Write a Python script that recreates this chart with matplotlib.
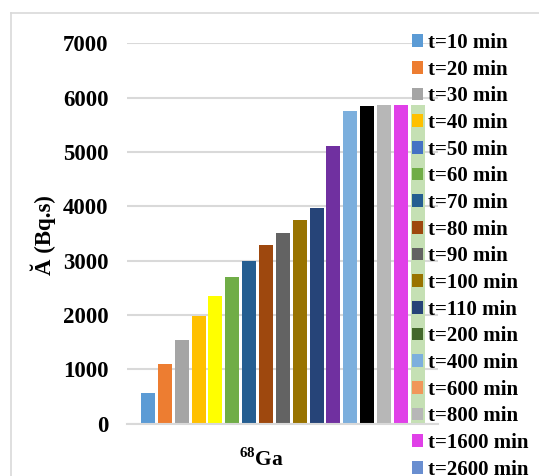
import matplotlib
matplotlib.use("Agg")
import matplotlib.pyplot as plt
from matplotlib.patches import Patch
from matplotlib.lines import Line2D

# bar heights (one bar per time point)
times = ["10", "20", "30", "40", "50", "60", "70", "80", "90", "100",
         "110", "200", "400", "600", "800", "1600", "2600"]
values = [558, 1092, 1547, 1982, 2343, 2692, 2991, 3284, 3517, 3756,
          3963, 5102, 5747, 5839, 5857, 5857, 5857]
bar_colors = ["#5B9BD5", "#ED7D31", "#A5A5A5", "#FFC000", "#FFFF00", "#70AD47",
              "#255E91", "#9E480E", "#636363", "#997300", "#264478", "#7030A0",
              "#7CAFDD", "#000000", "#B7B7B7", "#E040E8", "#C5E0B4"]
legend_colors = ["#5B9BD5", "#ED7D31", "#A5A5A5", "#FFC000", "#4472C4", "#70AD47",
                 "#255E91", "#9E480E", "#636363", "#997300", "#264478", "#43682B",
                 "#7CAFDD", "#F1975A", "#B7B7B7", "#E040E8", "#698ED0"]
yticks = [0, 1000, 2000, 3000, 4000, 5000, 6000, 7000]

plt.rcParams['font.family'] = ['Liberation Serif', 'DejaVu Serif']
plt.rcParams['font.weight'] = 'bold'
plt.rcParams['mathtext.fontset'] = 'custom'
plt.rcParams['mathtext.rm'] = 'Liberation Serif:bold'
plt.rcParams['mathtext.bf'] = 'Liberation Serif:bold'

W, H = 539, 476
fig = plt.figure(figsize=(W / 100, H / 100), dpi=100)

# outer chart border (left and top edges, the rest is cut off)
fig.lines.append(Line2D([10.5 / W, 10.5 / W], [0, 1 - 12.5 / H], transform=fig.transFigure,
                        color="#D9D9D9", linewidth=1.2))
fig.lines.append(Line2D([10.5 / W, 1], [1 - 12.5 / H, 1 - 12.5 / H], transform=fig.transFigure,
                        color="#D9D9D9", linewidth=1.2))

ax = fig.add_axes([127 / W, 52.3 / H, 311 / W, 380.5 / H])
x = list(range(len(values)))
ax.bar(x, values, width=0.83, color=bar_colors, zorder=2)

ax.set_ylim(0, 7000)
ax.set_xlim(-1.24, 17.2)
ax.set_yticks(yticks)
ax.set_xticks([])
ax.grid(axis="y", color="#D9D9D9", linewidth=1.5, zorder=0)
for s in ["top", "right", "left"]:
    ax.spines[s].set_visible(False)
ax.spines["bottom"].set_color("#D9D9D9")
ax.spines["bottom"].set_linewidth(1.5)
ax.tick_params(axis="y", length=0, pad=13.5, labelsize=16.5)
for lbl in ax.get_yticklabels():
    lbl.set_fontweight("bold")

fig.text(43 / W, 1 - 235 / H, "Ă (Bq.s)", rotation=90, ha="center", va="center",
         fontsize=16.5, fontweight="bold")
fig.text(262 / W, 1 - 460 / H, r"$^{68}$Ga", ha="center", va="center",
         fontsize=15.5, fontweight="bold")

handles = [Patch(facecolor=c, edgecolor="none") for c in legend_colors]
labels = ["t=%s min" % t for t in times]
leg = fig.legend(handles, labels, loc="upper left",
                 bbox_to_anchor=(412 / W, 1 - 33 / H), frameon=False,
                 fontsize=15, handlelength=0.55, handleheight=0.55,
                 handletextpad=0.2, labelspacing=0.32, borderpad=0, borderaxespad=0)
for t in leg.get_texts():
    t.set_fontweight("bold")

fig.savefig("out.png", dpi=100)
